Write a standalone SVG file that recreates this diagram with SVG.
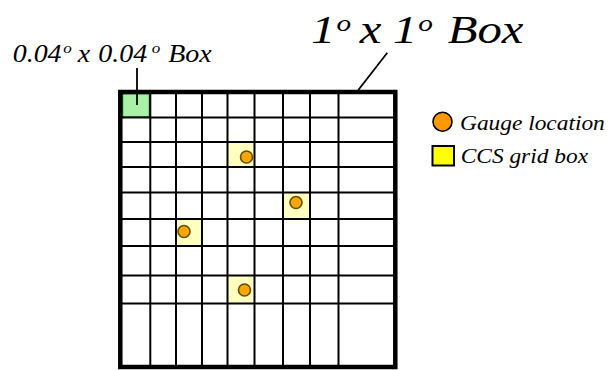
<svg xmlns="http://www.w3.org/2000/svg" width="612" height="370" viewBox="0 0 612 370">
<style>
.t{font-family:"Liberation Serif","Times New Roman",serif;font-style:italic;fill:#000}
.g{stroke:#000;stroke-width:2;fill:none}
.ccs{fill:#ffffc0;stroke:none}
.pt{fill:#ffa500;stroke:#5a5200;stroke-width:1.6}
.lead{stroke:#000;stroke-width:1.8;fill:none}
</style>
<rect width="612" height="370" fill="#fff"/>
<g id="ccs-boxes">
<rect class="ccs" x="227.5" y="142" width="27" height="25"/>
<rect class="ccs" x="283" y="192.5" width="27" height="26.5"/>
<rect class="ccs" x="176" y="219" width="26" height="27"/>
<rect class="ccs" x="227.5" y="275.5" width="27" height="28"/>
</g>
<g id="small-box">
<rect x="122.5" y="93.5" width="27" height="23.5" fill="#a8f2a8" stroke="#1f7a1f" stroke-width="1.5"/>
</g>
<g id="grid" class="g">
<path d="M150.3 92V367M176 92V367M202 92V367M227.5 92V367M254.5 92V367M283 92V367M310 92V367M338.5 92V367"/>
<path d="M120 117.5H395M120 142H395M120 167H395M120 192.5H395M120 219H395M120 246H395M120 275.5H395M120 303.5H395"/>
</g>
<g id="big-box">
<rect x="120.3" y="92" width="275" height="275" fill="none" stroke="#000" stroke-width="4.5"/>
</g>
<g id="gauges">
<circle class="pt" cx="246.5" cy="157" r="6"/>
<circle class="pt" cx="296" cy="202.5" r="6"/>
<circle class="pt" cx="184" cy="231.5" r="6"/>
<circle class="pt" cx="244.5" cy="290" r="6"/>
</g>
<g id="connectors">
<line class="lead" x1="137" y1="68" x2="137" y2="105"/>
<line class="lead" x1="387.3" y1="52.7" x2="358.3" y2="90"/>
</g>
<g id="label-small">
<text class="t" transform="translate(12.7 61.7) scale(1.14 1)" font-size="24.5"><tspan x="0" y="0">0.04</tspan><tspan x="44.4" y="-8.5" font-size="15">o</tspan><tspan x="57" y="0">x</tspan><tspan x="75.1" y="0">0.04</tspan><tspan x="121.9" y="-8.5" font-size="15">o</tspan><tspan x="136.5" y="0">Box</tspan></text>
</g>
<g id="label-big">
<text class="t" transform="translate(311 42.7) scale(1.22 1)" font-size="40"><tspan x="0" y="0">1</tspan><tspan x="21" y="-12" font-size="24">o</tspan><tspan x="40" y="0">x</tspan><tspan x="67" y="0">1</tspan><tspan x="88" y="-12" font-size="24">o</tspan><tspan x="112" y="0">Box</tspan></text>
</g>
<g id="legend">
<circle cx="442.5" cy="121.7" r="9.5" fill="#ff9900" stroke="#000" stroke-width="1.6"/>
<text class="t" transform="translate(460 130) scale(1.17 1)" font-size="20">Gauge location</text>
<rect x="432.5" y="146" width="21.5" height="19.5" fill="#ffff00" stroke="#000" stroke-width="2"/>
<text class="t" transform="translate(460.7 162.5) scale(1.17 1)" font-size="20">CCS grid box</text>
</g>
</svg>
